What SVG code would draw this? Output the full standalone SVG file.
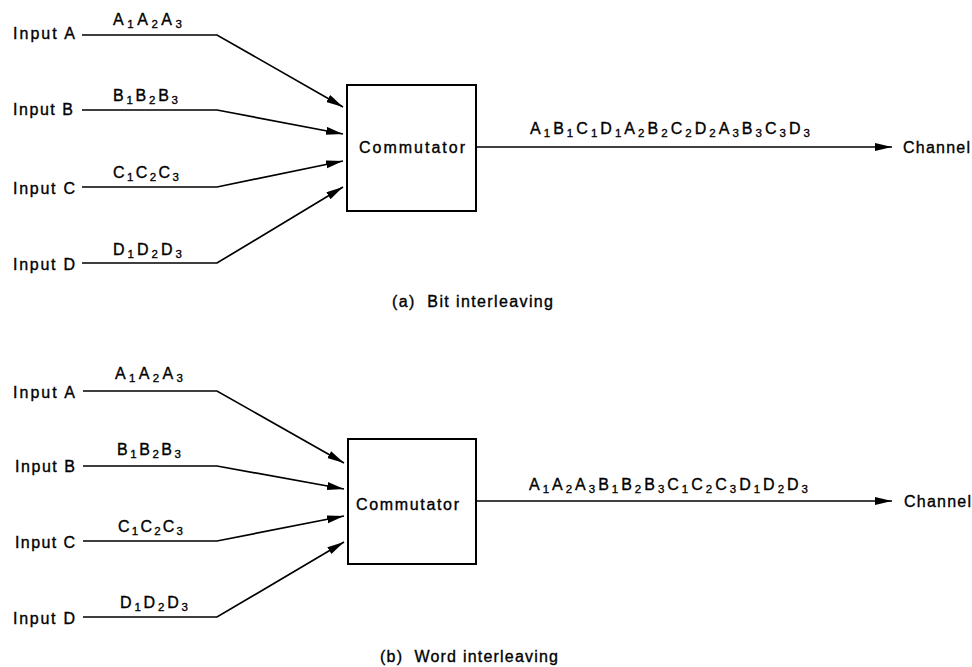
<svg xmlns="http://www.w3.org/2000/svg" width="972" height="667" viewBox="0 0 972 667">
<style>
text{font-family:"Liberation Sans",Arial,sans-serif;font-size:16px;fill:#000;stroke:#000;stroke-width:0.35}
.s{font-size:11.5px}
.ln{fill:none;stroke:#000;stroke-width:1.7;stroke-linejoin:miter}
.box{fill:#fff;stroke:#000;stroke-width:2}
</style>
<defs>
<marker id="ah" markerUnits="userSpaceOnUse" markerWidth="18" markerHeight="9" refX="17" refY="4" orient="auto">
<path d="M0,0 L17,4 L0,8 z" fill="#000"/>
</marker>
</defs>
<rect width="972" height="667" fill="#fff"/>

<g id="connectors">
<polyline class="ln" points="82,35 217,35 343,107" marker-end="url(#ah)"/>
<polyline class="ln" points="82,110 217,110 343,134" marker-end="url(#ah)"/>
<polyline class="ln" points="82,187 217,187 343,161" marker-end="url(#ah)"/>
<polyline class="ln" points="82,263 217,263 343,187" marker-end="url(#ah)"/>
<line class="ln" x1="476" y1="147" x2="892" y2="147" marker-end="url(#ah)"/>

<polyline class="ln" points="83,391 217,391 344,463" marker-end="url(#ah)"/>
<polyline class="ln" points="83,466 217,466 344,489" marker-end="url(#ah)"/>
<polyline class="ln" points="83,541 217,541 344,516" marker-end="url(#ah)"/>
<polyline class="ln" points="83,617 217,617 344,542" marker-end="url(#ah)"/>
<line class="ln" x1="476" y1="501" x2="892" y2="501" marker-end="url(#ah)"/>
</g>

<g id="labels-a">
<text x="113" y="25" textLength="69" lengthAdjust="spacing">A<tspan class="s" dy="3">1</tspan><tspan dy="-3">A</tspan><tspan class="s" dy="3">2</tspan><tspan dy="-3">A</tspan><tspan class="s" dy="3">3</tspan></text>
<text x="113" y="101" textLength="65" lengthAdjust="spacing">B<tspan class="s" dy="3">1</tspan><tspan dy="-3">B</tspan><tspan class="s" dy="3">2</tspan><tspan dy="-3">B</tspan><tspan class="s" dy="3">3</tspan></text>
<text x="113" y="178" textLength="66" lengthAdjust="spacing">C<tspan class="s" dy="3">1</tspan><tspan dy="-3">C</tspan><tspan class="s" dy="3">2</tspan><tspan dy="-3">C</tspan><tspan class="s" dy="3">3</tspan></text>
<text x="113" y="255" textLength="69" lengthAdjust="spacing">D<tspan class="s" dy="3">1</tspan><tspan dy="-3">D</tspan><tspan class="s" dy="3">2</tspan><tspan dy="-3">D</tspan><tspan class="s" dy="3">3</tspan></text>
<text x="530" y="134" textLength="280" lengthAdjust="spacing">A<tspan class="s" dy="3">1</tspan><tspan dy="-3">B</tspan><tspan class="s" dy="3">1</tspan><tspan dy="-3">C</tspan><tspan class="s" dy="3">1</tspan><tspan dy="-3">D</tspan><tspan class="s" dy="3">1</tspan><tspan dy="-3">A</tspan><tspan class="s" dy="3">2</tspan><tspan dy="-3">B</tspan><tspan class="s" dy="3">2</tspan><tspan dy="-3">C</tspan><tspan class="s" dy="3">2</tspan><tspan dy="-3">D</tspan><tspan class="s" dy="3">2</tspan><tspan dy="-3">A</tspan><tspan class="s" dy="3">3</tspan><tspan dy="-3">B</tspan><tspan class="s" dy="3">3</tspan><tspan dy="-3">C</tspan><tspan class="s" dy="3">3</tspan><tspan dy="-3">D</tspan><tspan class="s" dy="3">3</tspan></text>
<text x="392" y="307" textLength="161" lengthAdjust="spacing" xml:space="preserve">(a)  Bit interleaving</text>
</g>

<g id="inputA-a"><text x="13" y="39" textLength="62" lengthAdjust="spacing">Input A</text></g>
<g id="inputB-a"><text x="13" y="115" textLength="60" lengthAdjust="spacing">Input B</text></g>
<g id="inputC-a"><text x="13" y="194" textLength="62" lengthAdjust="spacing">Input C</text></g>
<g id="inputD-a"><text x="13" y="270" textLength="62" lengthAdjust="spacing">Input D</text></g>
<g id="commutator-a">
<rect class="box" x="347" y="85" width="129" height="126"/>
<text x="359" y="153" textLength="106" lengthAdjust="spacing">Commutator</text>
</g>
<g id="channel-a"><text x="903" y="153" textLength="67" lengthAdjust="spacing">Channel</text></g>

<g id="labels-b">
<text x="115" y="379" textLength="68" lengthAdjust="spacing">A<tspan class="s" dy="3">1</tspan><tspan dy="-3">A</tspan><tspan class="s" dy="3">2</tspan><tspan dy="-3">A</tspan><tspan class="s" dy="3">3</tspan></text>
<text x="117" y="455" textLength="64" lengthAdjust="spacing">B<tspan class="s" dy="3">1</tspan><tspan dy="-3">B</tspan><tspan class="s" dy="3">2</tspan><tspan dy="-3">B</tspan><tspan class="s" dy="3">3</tspan></text>
<text x="118" y="532" textLength="65" lengthAdjust="spacing">C<tspan class="s" dy="3">1</tspan><tspan dy="-3">C</tspan><tspan class="s" dy="3">2</tspan><tspan dy="-3">C</tspan><tspan class="s" dy="3">3</tspan></text>
<text x="120" y="608" textLength="68" lengthAdjust="spacing">D<tspan class="s" dy="3">1</tspan><tspan dy="-3">D</tspan><tspan class="s" dy="3">2</tspan><tspan dy="-3">D</tspan><tspan class="s" dy="3">3</tspan></text>
<text x="529" y="490" textLength="279" lengthAdjust="spacing">A<tspan class="s" dy="3">1</tspan><tspan dy="-3">A</tspan><tspan class="s" dy="3">2</tspan><tspan dy="-3">A</tspan><tspan class="s" dy="3">3</tspan><tspan dy="-3">B</tspan><tspan class="s" dy="3">1</tspan><tspan dy="-3">B</tspan><tspan class="s" dy="3">2</tspan><tspan dy="-3">B</tspan><tspan class="s" dy="3">3</tspan><tspan dy="-3">C</tspan><tspan class="s" dy="3">1</tspan><tspan dy="-3">C</tspan><tspan class="s" dy="3">2</tspan><tspan dy="-3">C</tspan><tspan class="s" dy="3">3</tspan><tspan dy="-3">D</tspan><tspan class="s" dy="3">1</tspan><tspan dy="-3">D</tspan><tspan class="s" dy="3">2</tspan><tspan dy="-3">D</tspan><tspan class="s" dy="3">3</tspan></text>
<text x="380" y="662" textLength="178" lengthAdjust="spacing" xml:space="preserve">(b)  Word interleaving</text>
</g>

<g id="inputA-b"><text x="13" y="398" textLength="62" lengthAdjust="spacing">Input A</text></g>
<g id="inputB-b"><text x="15" y="472" textLength="60" lengthAdjust="spacing">Input B</text></g>
<g id="inputC-b"><text x="15" y="548" textLength="60" lengthAdjust="spacing">Input C</text></g>
<g id="inputD-b"><text x="13" y="624" textLength="62" lengthAdjust="spacing">Input D</text></g>
<g id="commutator-b">
<rect class="box" x="348" y="439" width="128" height="125"/>
<text x="356" y="510" textLength="103" lengthAdjust="spacing">Commutator</text>
</g>
<g id="channel-b"><text x="904" y="507" textLength="67" lengthAdjust="spacing">Channel</text></g>
</svg>
